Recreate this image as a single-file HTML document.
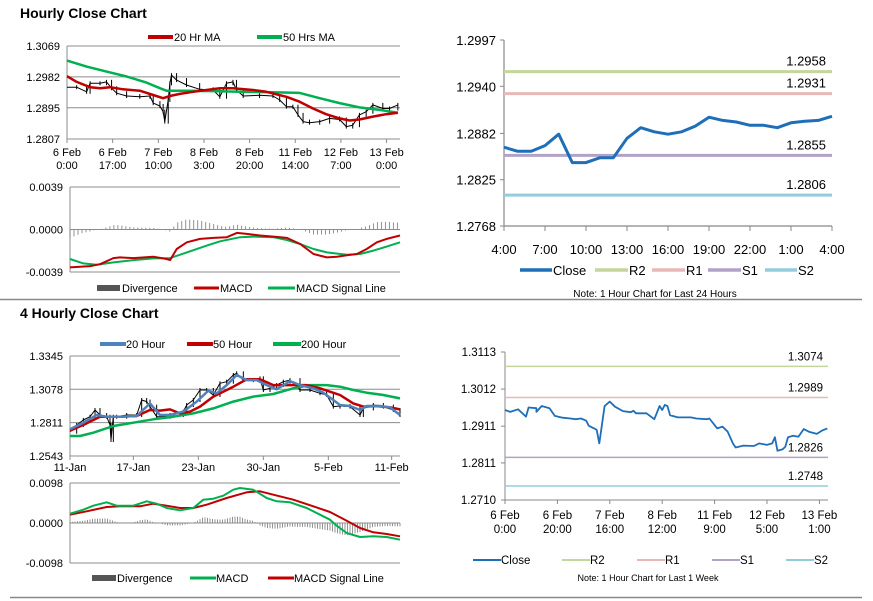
<!DOCTYPE html>
<html><head><meta charset="utf-8"><style>
body{margin:0;background:#fff;}
svg{display:block;font-family:"Liberation Sans",sans-serif;}
</style></head><body>
<svg id="s" width="873" height="601" viewBox="0 0 873 601">
<rect width="873" height="601" fill="#fff"/>
<line x1="0" y1="299.5" x2="862" y2="299.5" stroke="#888" stroke-width="1.5"/>
<line x1="10" y1="597.5" x2="862" y2="597.5" stroke="#888" stroke-width="1.5"/>
<text x="20" y="18" font-size="14" font-weight="bold">Hourly Close Chart</text>
<text x="20" y="318" font-size="14" font-weight="bold">4 Hourly Close Chart</text>
<!-- legend panel 1 -->
<g font-size="11">
<line x1="148" y1="37" x2="173" y2="37" stroke="#c00000" stroke-width="4"/><text x="174" y="41">20 Hr MA</text>
<line x1="257" y1="37" x2="282" y2="37" stroke="#00b050" stroke-width="4"/><text x="283" y="41">50 Hrs MA</text>
</g>
<g font-size="11">
<rect x="97" y="285" width="23" height="6" fill="#555"/><text x="122" y="292">Divergence</text>
<line x1="194" y1="288" x2="219" y2="288" stroke="#c00000" stroke-width="3"/><text x="220" y="292">MACD</text>
<line x1="268" y1="288" x2="295" y2="288" stroke="#00b050" stroke-width="3"/><text x="296" y="292">MACD Signal Line</text>
</g>
<g font-size="13">
<line x1="520" y1="270" x2="552" y2="270" stroke="#1f6eb8" stroke-width="3.5"/><text x="553" y="275">Close</text>
<line x1="595" y1="270" x2="628" y2="270" stroke="#c3d69b" stroke-width="3.5"/><text x="629" y="275">R2</text>
<line x1="652" y1="270" x2="685" y2="270" stroke="#e6b9b8" stroke-width="3.5"/><text x="686" y="275">R1</text>
<line x1="708" y1="270" x2="741" y2="270" stroke="#b3a2c7" stroke-width="3.5"/><text x="742" y="275">S1</text>
<line x1="765" y1="270" x2="797" y2="270" stroke="#93cddd" stroke-width="3.5"/><text x="798" y="275">S2</text>
</g>
<text x="655" y="297" font-size="10" text-anchor="middle">Note: 1 Hour Chart for Last 24 Hours</text>
<g font-size="11">
<line x1="100" y1="344" x2="126" y2="344" stroke="#4f81bd" stroke-width="4"/><text x="126" y="348">20 Hour</text>
<line x1="187" y1="344" x2="213" y2="344" stroke="#c00000" stroke-width="4"/><text x="213" y="348">50 Hour</text>
<line x1="273" y1="344" x2="301" y2="344" stroke="#00b050" stroke-width="4"/><text x="301" y="348">200 Hour</text>
</g>
<g font-size="11">
<rect x="92" y="575" width="24" height="6" fill="#555"/><text x="117" y="582">Divergence</text>
<line x1="190" y1="578" x2="216" y2="578" stroke="#00b050" stroke-width="3"/><text x="216" y="582">MACD</text>
<line x1="268" y1="578" x2="294" y2="578" stroke="#c00000" stroke-width="3"/><text x="294" y="582">MACD Signal Line</text>
</g>
<g font-size="11.5">
<line x1="473" y1="560" x2="501" y2="560" stroke="#1f6eb8" stroke-width="2"/><text x="501" y="564">Close</text>
<line x1="562" y1="560" x2="590" y2="560" stroke="#c3d69b" stroke-width="2"/><text x="590" y="564">R2</text>
<line x1="637" y1="560" x2="665" y2="560" stroke="#e6b9b8" stroke-width="2"/><text x="665" y="564">R1</text>
<line x1="712" y1="560" x2="740" y2="560" stroke="#b3a2c7" stroke-width="2"/><text x="740" y="564">S1</text>
<line x1="786" y1="560" x2="814" y2="560" stroke="#93cddd" stroke-width="2"/><text x="814" y="564">S2</text>
</g>
<text x="648" y="581" font-size="9" text-anchor="middle">Note: 1 Hour Chart for Last 1 Week</text>
</svg>
<script>
// ---- Panel 1: hourly close ----
const p1Hours=[0,3.6,7.3,8.6,12.3,14.7,16.6,18.5,22.2,27.1,30.9,32.1,34.6,35.8,36.4,37.7,38.3,38.9,40.8,44.5,49.4,54.4,56.9,59.4,61.8,63.1,65.6,71.7,76.7,79.2,81.7,84.1,86,87.9,90.3,94.1,97.8,101.5,104,106.4,108.9,111.4,113.9,117.6,120.1,123.2];
const p1Close=[1.2953,1.2953,1.2940,1.2964,1.2964,1.2968,1.2950,1.2936,1.2928,1.2926,1.2928,1.2908,1.2900,1.2884,1.2856,1.2917,1.2964,1.2987,1.2973,1.2959,1.2947,1.2945,1.2926,1.2964,1.2968,1.2945,1.2928,1.2930,1.2928,1.2917,1.2898,1.2898,1.2875,1.2856,1.2853,1.2856,1.2865,1.2862,1.2842,1.2846,1.2875,1.2884,1.2903,1.2893,1.2893,1.2903];
const p1MA20Hours=[0,3.6,8.6,12.3,16,20.9,27.1,32.1,35.8,38.3,42,47,51.9,56.9,61.8,69.3,74.2,81.7,86.6,91.6,96.5,101.5,105.2,108.9,113.9,118.8,123.2];
const p1MA20=[1.2984,1.2968,1.2953,1.2950,1.2953,1.2947,1.2943,1.2931,1.2922,1.2928,1.2934,1.2940,1.2945,1.2950,1.2950,1.2945,1.2940,1.2926,1.2912,1.2893,1.2877,1.2865,1.2859,1.2862,1.2870,1.2877,1.2881];
const p1MA50Hours=[0,7.3,14.7,22.2,29.6,34.6,37,44.5,54.4,64.3,74.2,86.6,94.1,101.5,108.9,116.4,123.2];
const p1MA50=[1.3028,1.3011,1.2997,1.2983,1.2966,1.2950,1.2943,1.2943,1.2942,1.2940,1.2939,1.2937,1.2922,1.2908,1.2896,1.2889,1.2881];
const p1YTicks=[1.3069,1.2982,1.2895,1.2807];
const p1XTickHours=[0,17,34,51,68,85,102,119];
const p1XLabels=[["6 Feb","0:00"],["6 Feb","17:00"],["7 Feb","10:00"],["8 Feb","3:00"],["8 Feb","20:00"],["11 Feb","14:00"],["12 Feb","7:00"],["13 Feb","0:00"]];
const m1MacdHours=[0,7.5,11.3,16.3,18.8,23.8,31.3,36.3,37.6,40.1,43.9,48.9,53.9,58.9,62.7,66.4,71.4,76.4,81.5,86.5,91.5,96.5,100.3,104,107.8,111.5,115.3,119,124];
const m1Macd=[-0.00348,-0.00336,-0.00318,-0.00262,-0.00256,-0.00262,-0.0025,-0.00271,-0.00281,-0.00179,-0.00117,-0.00086,-0.00077,-0.00071,-0.00031,-0.0004,-0.00055,-0.00065,-0.00077,-0.00133,-0.00225,-0.00256,-0.0025,-0.00237,-0.00225,-0.00179,-0.00117,-0.00086,-0.00055];
const m1SigHours=[0,5,10,16.3,23.8,31.3,37.6,43.9,51.4,56.4,63.9,68.9,76.4,81.5,86.5,91.5,96.5,104,109,114,119,124];
const m1Sig=[-0.00271,-0.00311,-0.00324,-0.00302,-0.00281,-0.00265,-0.00262,-0.0021,-0.00148,-0.00108,-0.00071,-0.00065,-0.00071,-0.00096,-0.00133,-0.00179,-0.0021,-0.00231,-0.00225,-0.00194,-0.00157,-0.00117];
const m1YTicks=[0.0039,0.0000,-0.0039];
const m1YLabels=["0.0039","0.0000","-0.0039"];
// ---- Panel 2: last 24 hours ----
const p2Close=[1.2865,1.2860,1.2860,1.2867,1.2881,1.2846,1.2846,1.2852,1.2852,1.2876,1.2889,1.2884,1.2881,1.2884,1.2891,1.2902,1.2898,1.2896,1.2892,1.2892,1.2889,1.2895,1.2897,1.2898,1.2903];
const p2XLabels=["4:00","7:00","10:00","13:00","16:00","19:00","22:00","1:00","4:00"];
const p2YTicks=[1.2997,1.2940,1.2882,1.2825,1.2768];
const p2Levels=[1.2958,1.2931,1.2855,1.2806];
const levelNames=["r2","r1","s1","s2"];
const levelColors=["#c3d69b","#e6b9b8","#b3a2c7","#93cddd"];
// ---- Panel 3: 4 hourly ----
const p3CloseIdx=[0,4,8,12,15,18,22,24,24.6,26,28,34,40,43,46,48,52,56,60,62,68,70,74,78,82,86,90,94,98,100,104,110,114,116,120,124,128,132,138,144,150,154,158,162,168,174,176,182,188,194,198];
const p3Close=[1.2738,1.2792,1.2832,1.2858,1.2912,1.2872,1.2858,1.2792,1.2671,1.2858,1.2858,1.2872,1.2872,1.2992,1.2979,1.2939,1.2858,1.2858,1.2872,1.2872,1.2899,1.2952,1.2992,1.3072,1.3072,1.3032,1.3126,1.3139,1.3193,1.3206,1.3152,1.3152,1.3166,1.3072,1.3086,1.3112,1.3139,1.3152,1.3072,1.3072,1.3046,1.3032,1.2939,1.2944,1.2939,1.2872,1.2925,1.2952,1.2939,1.2912,1.2872];
const p3MA20Idx=[0,8,16,22,30,40,48,54,60,68,76,83,88,94,100,106,112,118,124,132,138,146,152,158,162,168,174,178,186,192,198];
const p3MA20=[1.2757,1.2810,1.2872,1.2858,1.2858,1.2864,1.2965,1.2872,1.2872,1.2899,1.2979,1.3067,1.3046,1.3112,1.3193,1.3152,1.3152,1.3112,1.3078,1.3144,1.3112,1.3086,1.3051,1.2992,1.2952,1.2944,1.2912,1.2944,1.2944,1.2933,1.2872];
const p3MA50Idx=[0,10,18,30,40,48,54,60,66,72,78,86,98,106,114,122,130,142,150,156,162,170,176,184,192,198];
const p3MA50=[1.2746,1.2805,1.2858,1.2858,1.2864,1.2912,1.2907,1.2917,1.2885,1.2899,1.2939,1.3019,1.3099,1.3158,1.3158,1.3112,1.3112,1.3112,1.3086,1.3059,1.3032,1.2965,1.2939,1.2944,1.2933,1.2917];
const p3MA200Idx=[0,6,14,26,38,50,62,74,86,98,110,122,134,144,154,162,170,178,188,198];
const p3MA200=[1.2703,1.2703,1.2730,1.2784,1.2810,1.2837,1.2858,1.2885,1.2925,1.2979,1.3019,1.3040,1.3086,1.3112,1.3112,1.3099,1.3072,1.3051,1.3032,1.3005];
const p3YTicks=[1.3345,1.3078,1.2811,1.2543];
const p3XTickIdx=[0,38,77,116,155,193];
const p3XLabels=["11-Jan","17-Jan","23-Jan","30-Jan","5-Feb","11-Feb"];
const m3MacdIdx=[0,8,14,22,28,38,46,52,58,66,74,80,86,92,98,102,110,118,124,132,142,150,156,160,166,174,182,190,198];
const m3Macd=[0.00229,0.00327,0.00425,0.00507,0.00425,0.00425,0.00531,0.00474,0.00368,0.0031,0.00368,0.00572,0.00596,0.0067,0.00817,0.00858,0.00817,0.00613,0.00531,0.00507,0.00368,0.00204,0.00082,-0.00065,-0.00245,-0.00343,-0.00327,-0.00343,-0.00409];
const m3SigIdx=[0,10,22,30,42,50,58,66,74,82,94,106,114,122,134,146,156,166,174,182,190,198];
const m3Sig=[0.00204,0.00286,0.00392,0.00409,0.00409,0.00474,0.00425,0.00368,0.00368,0.00449,0.00613,0.00752,0.00776,0.00694,0.00572,0.00409,0.0027,0.00057,-0.00123,-0.00229,-0.0027,-0.00327];
const m3YTicks=[0.0098,0.0000,-0.0098];
const m3YLabels=["0.0098","0.0000","-0.0098"];
// ---- Panel 4: last week ----
const p4Hours=[0,2,5,8,9,12,12,14,17,19,22,25,27,29,31,32,34,35,36,38,40,42,45,48,49,50,54,57,59,60,61,62,63,66,71,73,77,78,80,81,83,85,87,88,91,95,97,100,102,103,104,106,107,108,110,112,114,116,119,121,123];
const p4Close=[1.2955,1.2950,1.2957,1.2937,1.2962,1.2960,1.2950,1.2966,1.2960,1.2939,1.2934,1.2932,1.2930,1.2932,1.2926,1.2912,1.2905,1.2901,1.2864,1.2966,1.2978,1.2964,1.2952,1.2949,1.2953,1.2946,1.2946,1.2930,1.2966,1.2955,1.2969,1.2966,1.2941,1.2935,1.2935,1.2932,1.2930,1.2932,1.2914,1.2905,1.2910,1.2896,1.2864,1.2853,1.2858,1.2857,1.2864,1.2860,1.2864,1.2881,1.2844,1.2848,1.2855,1.2881,1.2885,1.2882,1.2903,1.2896,1.2890,1.2899,1.2905];
const p4XTickHours=[0,20,40,60,80,100,120];
const p4XLabels=[["6 Feb","0:00"],["6 Feb","20:00"],["7 Feb","16:00"],["8 Feb","12:00"],["11 Feb","9:00"],["12 Feb","5:00"],["13 Feb","1:00"]];
const p4YTicks=[1.3113,1.3012,1.2911,1.2811,1.2710];
const p4Levels=[1.3074,1.2989,1.2826,1.2748];

const NS="http://www.w3.org/2000/svg";
const svg=document.getElementById("s");
function lin(d0,d1,r0,r1){return v=>r0+(v-d0)*(r1-r0)/(d1-d0);}
function mk(tag,attrs,name){
  const e=document.createElementNS(NS,tag);
  for(const k in attrs)e.setAttribute(k,attrs[k]);
  
  
  svg.appendChild(e);return e;
}
function seg(x1,y1,x2,y2,c,w,name){return mk("line",{x1:x1,y1:y1,x2:x2,y2:y2,stroke:c,"stroke-width":w},name);}
function txt(x,y,s,size,anchor,name){const t=mk("text",{x:x,y:y,"font-size":size,"text-anchor":anchor||"start"},name);t.textContent=s;return t;}
function poly(xs,ys,X,Y,c,w,name){
  let d="";for(let i=0;i<xs.length;i++)d+=(i?"L":"M")+X(xs[i]).toFixed(1)+","+Y(ys[i]).toFixed(1);
  return mk("path",{d:d,fill:"none",stroke:c,"stroke-width":w,"stroke-linejoin":"round"},name);
}
function interp(xs,ys,x){
  if(x<=xs[0])return ys[0];
  for(let i=1;i<xs.length;i++)if(x<=xs[i]){const t=(x-xs[i-1])/(xs[i]-xs[i-1]||1);return ys[i-1]+t*(ys[i]-ys[i-1]);}
  return ys[ys.length-1];
}
function bars(xs,ys,X,Y,name){
  for(let i=1;i<xs.length;i++){
    const lo=Math.min(ys[i-1],ys[i]),hi=Math.max(ys[i-1],ys[i]);
    seg(X(xs[i]),Y(lo)+2,X(xs[i]),Y(hi)-2,"#000",1,name);
  }
}

// Panel 1
const X1=lin(0,124,67,400),Y1=lin(1.2807,1.3069,139,46);
p1YTicks.forEach((v,i)=>{seg(67,Y1(v),400,Y1(v),"#8c8c8c",1,"grid-line");txt(60,Y1(v)+4,v.toFixed(4),11,"end","y-tick-label");});
seg(67,46,67,139,"#8c8c8c",1,"y-axis");
p1XTickHours.forEach((h,i)=>{seg(X1(h),139,X1(h),143,"#8c8c8c",1,"x-tick");txt(X1(h),156,p1XLabels[i][0],11,"middle","x-tick-label");txt(X1(h),169,p1XLabels[i][1],11,"middle","x-tick-label");});
poly(p1Hours,p1Close,X1,Y1,"#000",1,"close-price");
bars(p1Hours,p1Close,X1,Y1,"price-bar");
poly(p1MA50Hours,p1MA50,X1,Y1,"#00b050",2.5,"ma50-line");
poly(p1MA20Hours,p1MA20,X1,Y1,"#c00000",2.5,"ma20-line");
// MACD 1
const XM1=lin(0,124,70,400),YM1=lin(-0.0039,0.0039,272,187);
seg(70,187,400,187,"#8c8c8c",1,"grid-line");seg(70,272,400,272,"#8c8c8c",1,"grid-line");
seg(70,187,70,272,"#8c8c8c",1,"y-axis");
m1YTicks.forEach((v,i)=>txt(63,YM1(v)+4,m1YLabels[i],11,"end","y-tick-label"));
for(let h=0;h<=124;h+=1.5){const d=interp(m1MacdHours,m1Macd,h)-interp(m1SigHours,m1Sig,h);seg(XM1(h),YM1(0),XM1(h),YM1(d),"#777",0.8,"divergence-bar");}
seg(70,YM1(0),400,YM1(0),"#8c8c8c",1,"zero-line");
poly(m1SigHours,m1Sig,XM1,YM1,"#00b050",2,"signal-line");
poly(m1MacdHours,m1Macd,XM1,YM1,"#c00000",2,"macd-line");

// Panel 2
const X2=lin(0,24,504,832),Y2=lin(1.2768,1.2997,226,40);
seg(504,40,504,226,"#888",1.2,"y-axis");seg(504,226,832,226,"#888",1.2,"x-axis");
p2YTicks.forEach(v=>{seg(500,Y2(v),504,Y2(v),"#888",1,"y-tick");txt(496,Y2(v)+5,v.toFixed(4),13,"end","y-tick-label");});
p2XLabels.forEach((s,i)=>{const x=X2(i*3);seg(x,226,x,231,"#888",1,"x-tick");txt(x,254,s,13,"middle","x-tick-label");});
p2Levels.forEach((v,i)=>{seg(504,Y2(v),832,Y2(v),levelColors[i],3,"level-"+levelNames[i]);txt(826,Y2(v)-6,v.toFixed(4),13,"end","level-label");});
poly(p2Close.map((v,i)=>i),p2Close,X2,Y2,"#1f6eb8",3,"close-line");

// Panel 3
const X3=lin(0,198,70,400),Y3=lin(1.2543,1.3345,456,356);
p3YTicks.forEach(v=>{seg(70,Y3(v),400,Y3(v),"#8c8c8c",1,"grid-line");txt(63,Y3(v)+4,v.toFixed(4),11,"end","y-tick-label");});
seg(70,356,70,456,"#8c8c8c",1,"y-axis");
p3XTickIdx.forEach((k,i)=>{seg(X3(k),456,X3(k),460,"#8c8c8c",1,"x-tick");txt(X3(k),471,p3XLabels[i],11,"middle","x-tick-label");});
poly(p3CloseIdx,p3Close,X3,Y3,"#000",1,"close-price");
bars(p3CloseIdx,p3Close,X3,Y3,"price-bar");
poly(p3MA200Idx,p3MA200,X3,Y3,"#00b050",2.5,"ma200-line");
poly(p3MA50Idx,p3MA50,X3,Y3,"#c00000",2.5,"ma50-line");
poly(p3MA20Idx,p3MA20,X3,Y3,"#4f81bd",2.5,"ma20-line");
const YM3=lin(-0.0098,0.0098,563,483);
seg(70,483,400,483,"#8c8c8c",1,"grid-line");seg(70,563,400,563,"#8c8c8c",1,"grid-line");
seg(70,483,70,563,"#8c8c8c",1,"y-axis");
m3YTicks.forEach((v,i)=>txt(63,YM3(v)+4,m3YLabels[i],11,"end","y-tick-label"));
for(let k=0;k<=198;k+=1.5){const d=interp(m3MacdIdx,m3Macd,k)-interp(m3SigIdx,m3Sig,k);seg(X3(k),YM3(0),X3(k),YM3(d),"#777",0.8,"divergence-bar");}
seg(70,YM3(0),400,YM3(0),"#8c8c8c",1,"zero-line");
poly(m3SigIdx,m3Sig,X3,YM3,"#c00000",2,"signal-line");
poly(m3MacdIdx,m3Macd,X3,YM3,"#00b050",2,"macd-line");

// Panel 4
const X4=lin(0,120,505,819.4),Y4=lin(1.2710,1.3113,500,352);
seg(505,352,505,500,"#888",1,"y-axis");seg(505,500,828,500,"#888",1,"x-axis");
p4YTicks.forEach(v=>{seg(501,Y4(v),505,Y4(v),"#888",1,"y-tick");txt(496,Y4(v)+4,v.toFixed(4),11.5,"end","y-tick-label");});
p4XTickHours.forEach((h,i)=>{seg(X4(h),500,X4(h),504,"#888",1,"x-tick");txt(X4(h),519,p4XLabels[i][0],11.5,"middle","x-tick-label");txt(X4(h),533,p4XLabels[i][1],11.5,"middle","x-tick-label");});
p4Levels.forEach((v,i)=>{seg(505,Y4(v),828,Y4(v),levelColors[i],1.5,"level-"+levelNames[i]+"-week");});
poly(p4Hours,p4Close,X4,Y4,"#1f6eb8",1.8,"close-line-week");
p4Levels.forEach((v,i)=>{txt(823,Y4(v)-6,v.toFixed(4),11.5,"end","level-label-week");});
</script>
</body></html>
